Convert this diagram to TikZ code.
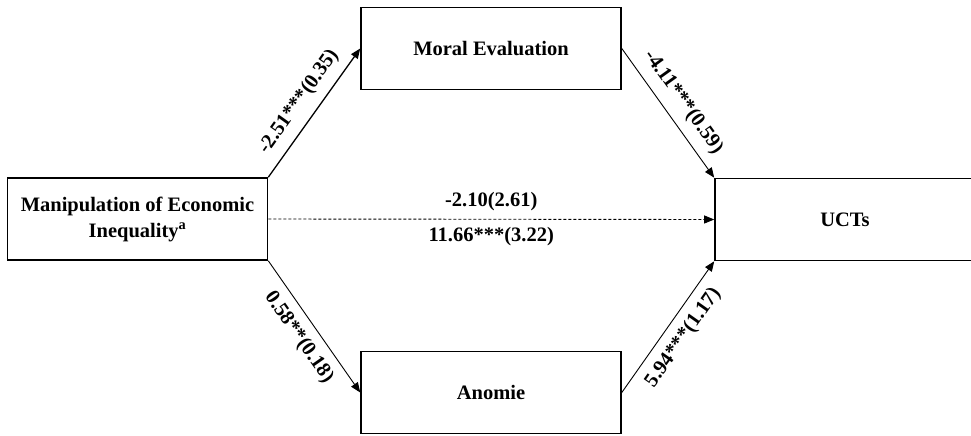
\documentclass[tikz,border=0pt]{standalone}
\usepackage{xcolor}
\usepackage{fontspec}
\setmainfont{Liberation Serif}
\usetikzlibrary{arrows.meta}

\begin{document}
\begin{tikzpicture}[x=1pt,y=-1pt,
  box/.style={draw,line width=1.6pt,minimum width=260pt,minimum height=82pt,inner sep=0pt,
    align=center,font=\bfseries\fontsize{20.5}{26}\selectfont},
  link/.style={line width=0.9pt,-{Triangle[length=10pt,width=8pt]}},
  coef/.style={midway,sloped,inner sep=9pt,font=\bfseries\fontsize{20.5}{24}\selectfont}]
\useasboundingbox (0,0) rectangle (971,436);
\node[box] (iv) at (137.5,219) {Manipulation of Economic\\Inequality\textsuperscript{a}}; % predictor
\node[box] (moral) at (491,48.5) {Moral Evaluation}; % mediator 1
\node[box] (anomie) at (491,392.5) {Anomie}; % mediator 2
\node[box] (ucts) at (845,219.5) {UCTs}; % outcome
\draw[link,line width=1.3pt] (iv.north east) -- (moral.west) node[coef,above] {-2.51***(0.35)};
\draw[link] (moral.east) -- (ucts.north west) node[coef,above] {-4.11***(0.59)};
\draw[link] (iv.south east) -- (anomie.west) node[coef,below] {0.58**(0.18)};
\draw[link] (anomie.east) -- (ucts.south west) node[coef,below] {5.94***(1.17)};
\draw[link,dash pattern=on 3pt off 2pt] (iv.east) -- (ucts.west)
  node[coef,above,inner sep=8pt] {-2.10(2.61)}
  node[coef,below,inner sep=8pt] {11.66***(3.22)};
\end{tikzpicture}
\end{document}
